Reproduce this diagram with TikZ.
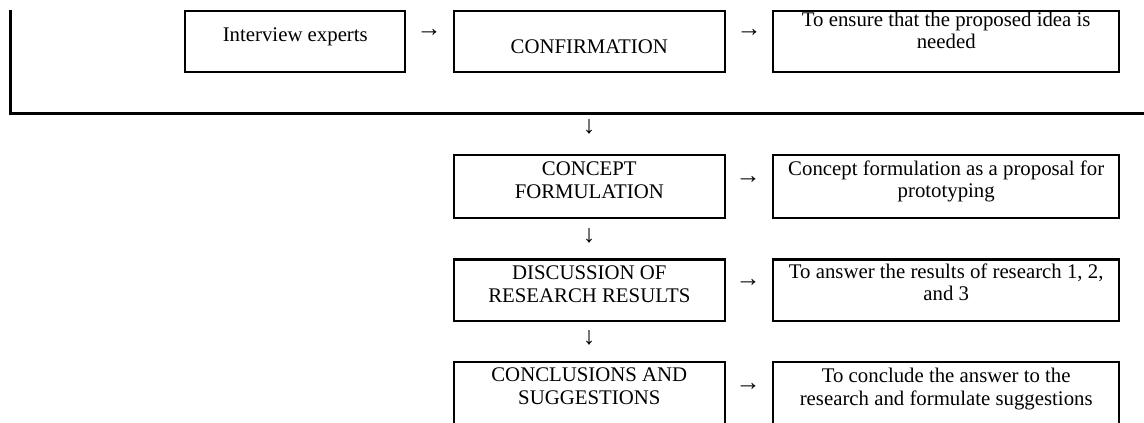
\documentclass[tikz,border=0pt]{standalone}
\usepackage{fontspec}
\setmainfont{Liberation Serif}
\begin{document}
\begin{tikzpicture}[x=1pt,y=-1pt,
  box/.style={draw,line width=2.2pt,inner sep=0pt},
  lbl/.style={inner sep=0pt,anchor=base,font=\fontsize{20.8}{23}\selectfont},
  arr/.style={inner sep=0pt,anchor=center,font=\fontsize{25}{26}\selectfont},
  frame/.style={line width=3.3pt}]
\useasboundingbox (0,0) rectangle (1144,423);
\clip (0,0) rectangle (1144,423);
% frame line
\coordinate (ftop) at (10.5,10);
\coordinate (fcorner) at (10.5,113.5);
\coordinate (fend) at (1150,113.5);
\draw[frame] (ftop) -- (fcorner) -- (fend);
% boxes
\draw[box] (185.3,10.7) rectangle (405.3,72);
\draw[box] (454,10.7) rectangle (724.7,72);
\draw[box] (773.3,10.7) rectangle (1119,72);
\draw[box] (454,155.3) rectangle (724.7,218);
\draw[box] (773.3,155.3) rectangle (1119,218);
\draw[box] (454,259.5) rectangle (724.7,320.7);
\draw[box] (773.3,259.5) rectangle (1119,320.7);
\draw[box] (454,362.3) rectangle (724.7,440);
\draw[box] (773.3,362.3) rectangle (1119,440);
% texts
\node[lbl] (t1) at (295.3,41) {Interview experts};
\node[lbl] (t2) at (589.3,53.3) {CONFIRMATION};
\node[lbl] (t3a) at (946.2,26.5) {To ensure that the proposed idea is};
\node[lbl] (t3b) at (946.2,48.5) {needed};
\node[lbl] (t4a) at (589.3,175) {CONCEPT};
\node[lbl] (t4b) at (589.3,198) {FORMULATION};
\node[lbl] (t5a) at (946.2,175) {Concept formulation as a proposal for};
\node[lbl] (t5b) at (946.2,197.5) {prototyping};
\node[lbl] (t6a) at (589.3,279) {DISCUSSION OF};
\node[lbl] (t6b) at (589.3,302) {RESEARCH RESULTS};
\node[lbl] (t7a) at (946.2,278) {To answer the results of research 1, 2,};
\node[lbl] (t7b) at (946.2,300.5) {and 3};
\node[lbl] (t8a) at (589.3,381) {CONCLUSIONS AND};
\node[lbl] (t8b) at (589.3,404) {SUGGESTIONS};
\node[lbl] (t9a) at (946.2,382) {To conclude the answer to the};
\node[lbl] (t9b) at (946.2,405) {research and formulate suggestions};
% arrows
\node[arr] (r1) at (429,33) {→};
\node[arr] (r2) at (749,33) {→};
\node[arr] (r3) at (748,180) {→};
\node[arr] (r4) at (748,283) {→};
\node[arr] (r5) at (748,387) {→};
\node[arr] (d1) at (589,127) {↓};
\node[arr] (d2) at (589,236) {↓};
\node[arr] (d3) at (589,338) {↓};
\end{tikzpicture}
\end{document}
